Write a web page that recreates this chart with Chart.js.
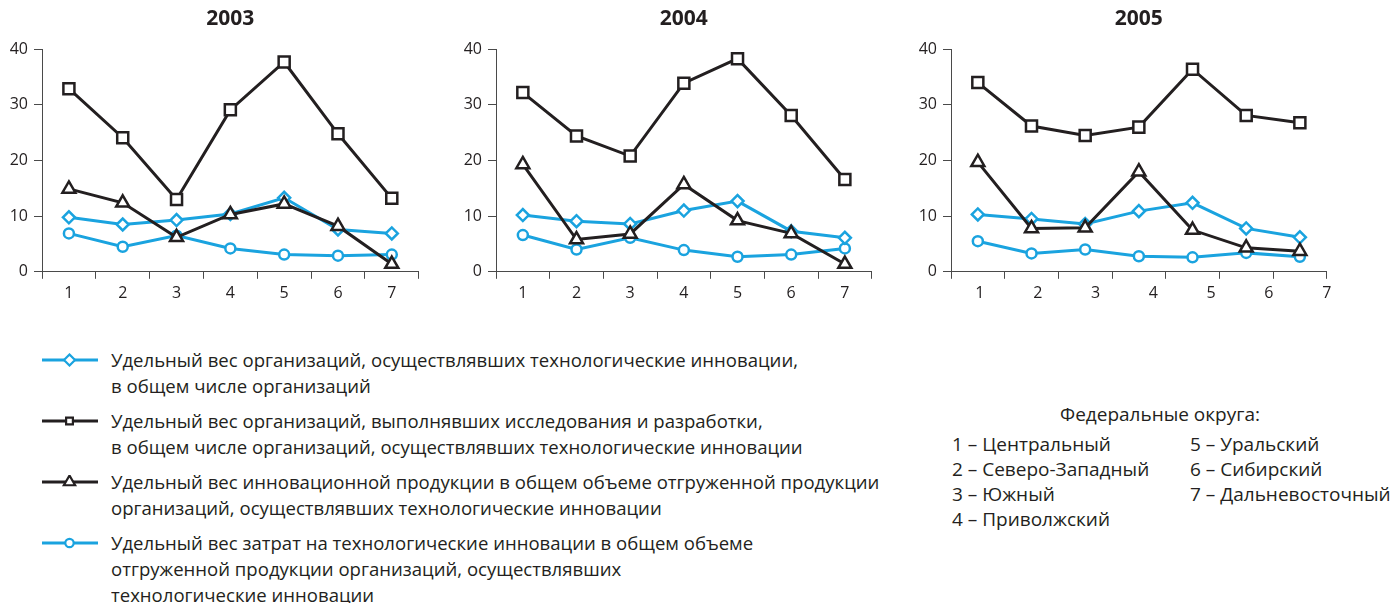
<!DOCTYPE html>
<html lang="ru">
<head>
<meta charset="utf-8">
<title>Инновационная активность по федеральным округам</title>
<script src="https://cdn.jsdelivr.net/npm/chart.js@4.4.1/dist/chart.umd.min.js"></script>
<style>
html, body { margin: 0; padding: 0; background: #fff; }
body { width: 1392px; height: 603px; position: relative; overflow: hidden;
       font-family: "Open Sans", sans-serif; color: #231f20; }
canvas.panel { position: absolute; top: 0; }
#legend { position: absolute; left: 42px; top: 347px; }
.item { display: flex; align-items: flex-start; margin-bottom: 9px; }
.item canvas { flex: none; margin-top: 6px; }
.item .txt { margin-left: 13px; font-size: 19px; line-height: 26px; white-space: nowrap;
             transform-origin: left top; }
.item .txt span { display: inline-block; }
#districts { position: absolute; left: 952px; top: 402px; font-size: 19px; line-height: 25px; }
#districts .head { position: absolute; left: 208px; top: 0; transform: translateX(-50%); white-space: nowrap; }
#districts .col { position: absolute; top: 30px; white-space: nowrap; }
</style>
</head>
<body>
<canvas class="panel" id="c2003" width="429" height="308" style="left:0px"></canvas>
<canvas class="panel" id="c2004" width="428" height="308" style="left:454px"></canvas>
<canvas class="panel" id="c2005" width="428" height="308" style="left:909px"></canvas>
<div id="legend"></div>
<div id="districts"></div>
<script>
// federal districts (x categories)
var districts = ['1', '2', '3', '4', '5', '6', '7'];
var districtNames = ['Центральный', 'Северо-Западный', 'Южный', 'Приволжский',
                     'Уральский', 'Сибирский', 'Дальневосточный'];

var seriesNames = [
    'Удельный вес организаций, осуществлявших технологические инновации,\nв общем числе организаций',
    'Удельный вес организаций, выполнявших исследования и разработки,\nв общем числе организаций, осуществлявших технологические инновации',
    'Удельный вес инновационной продукции в общем объеме отгруженной продукции\nорганизаций, осуществлявших технологические инновации',
    'Удельный вес затрат на технологические инновации в общем объеме\nотгруженной продукции организаций, осуществлявших\nтехнологические инновации'
];

// 2003
var innov2003   = [9.8, 8.5, 9.3, 10.4, 13.3, 7.6, 6.9];
var rnd2003     = [32.9, 24.1, 13.0, 29.1, 37.7, 24.8, 13.2];
var product2003 = [14.9, 12.4, 6.2, 10.3, 12.2, 8.2, 1.4];
var costs2003   = [6.9, 4.5, 6.5, 4.2, 3.1, 2.9, 3.1];

// 2004
var innov2004   = [10.2, 9.1, 8.6, 11.0, 12.7, 7.3, 6.1];
var rnd2004     = [32.2, 24.4, 20.8, 33.9, 38.3, 28.1, 16.6];
var product2004 = [19.3, 5.8, 6.8, 15.7, 9.2, 6.9, 1.4];
var costs2004   = [6.6, 4.0, 6.1, 3.9, 2.7, 3.1, 4.2];

// 2005
var innov2005   = [10.3, 9.5, 8.6, 10.9, 12.4, 7.8, 6.2];
var rnd2005     = [34.0, 26.2, 24.5, 26.0, 36.4, 28.1, 26.8];
var product2005 = [19.7, 7.8, 7.9, 18.0, 7.5, 4.3, 3.7];
var costs2005   = [5.5, 3.3, 4.0, 2.8, 2.6, 3.4, 2.7];

var BLUE = '#1aa3df';
var BLACK = '#231f20';
var AXIS = '#4a4a4a';
var FONT = '"Open Sans", sans-serif';

var styles = [
    { color: BLUE,  pointStyle: 'rectRot',  radius: 6,   legendRadius: 5.5, order: 2 },
    { color: BLACK, pointStyle: 'rect',     radius: 7.8, legendRadius: 4.8, order: 1 },
    { color: BLACK, pointStyle: 'triangle', radius: 7.5, legendRadius: 6.5, order: 1 },
    { color: BLUE,  pointStyle: 'circle',   radius: 5,   legendRadius: 4.2, order: 2 }
];

function createPanel(elementId, year, values, shiftedLabels) {
    var ctx = document.getElementById(elementId).getContext('2d');

    var datasets = [];
    for (var i = 0; i < values.length; i++) {
        var s = styles[i];
        datasets.push({
            label: seriesNames[i],
            data: values[i],
            borderColor: s.color,
            backgroundColor: '#fff',
            borderWidth: 3,
            pointStyle: s.pointStyle,
            pointRadius: s.radius,
            pointBorderWidth: 2.5,
            pointBorderColor: s.color,
            pointBackgroundColor: '#fff',
            tension: 0,
            order: s.order
        });
    }

    var tickFont = { family: FONT, size: 16 };

    var scales = {
        x: {
            offset: true,
            grid: { offset: true, drawOnChartArea: false, tickLength: 7, color: AXIS },
            border: { color: AXIS, width: 1 },
            ticks: { display: !shiftedLabels, padding: 5, color: BLACK, font: tickFont,
                     maxRotation: 0, autoSkip: false }
        },
        y: {
            min: 0,
            max: 40,
            grid: { drawOnChartArea: false, tickLength: 8, color: AXIS },
            border: { color: AXIS, width: 1 },
            ticks: { stepSize: 10, padding: 6, color: BLACK, font: tickFont },
            afterFit: function (scale) { scale.width = 42; }
        }
    };

    // in the 2005 panel the district numbers drift off the interval centres
    if (shiftedLabels) {
        scales.x2 = {
            type: 'linear',
            position: 'bottom',
            weight: 1,
            min: 0.5,
            max: 7,
            grid: { display: false, drawTicks: false },
            border: { display: false },
            ticks: { padding: 5, color: BLACK, font: tickFont, maxRotation: 0, autoSkip: false },
            afterBuildTicks: function (axis) {
                axis.ticks = districts.map(function (d) { return { value: Number(d) }; });
            }
        };
    }

    return new Chart(ctx, {
        type: 'line',
        data: { labels: districts, datasets: datasets },
        options: {
            responsive: false,
            animation: false,
            layout: { padding: { right: 8 } },
            plugins: {
                legend: { display: false },
                tooltip: { enabled: false },
                title: {
                    display: true,
                    text: year,
                    fullSize: false,
                    color: BLACK,
                    font: { family: FONT, size: 21, weight: 'bold' },
                    padding: { top: 6, bottom: 18 }
                }
            },
            scales: scales
        }
    });
}

createPanel('c2003', '2003', [innov2003, rnd2003, product2003, costs2003], false);
createPanel('c2004', '2004', [innov2004, rnd2004, product2004, costs2004], false);
createPanel('c2005', '2005', [innov2005, rnd2005, product2005, costs2005], true);

// legend below the panels
var legend = document.getElementById('legend');
for (var i = 0; i < seriesNames.length; i++) {
    var s = styles[i];
    var item = document.createElement('div');
    item.className = 'item';

    var mk = document.createElement('canvas');
    mk.width = 56; mk.height = 14;
    var mctx = mk.getContext('2d');
    mctx.strokeStyle = s.color;
    mctx.lineWidth = 3;
    mctx.beginPath(); mctx.moveTo(0, 7); mctx.lineTo(56, 7); mctx.stroke();
    mctx.fillStyle = '#fff';
    mctx.lineWidth = 2.2;
    if (Chart.helpers && Chart.helpers.drawPoint) {
        Chart.helpers.drawPoint(mctx, { pointStyle: s.pointStyle, radius: s.legendRadius,
                                        borderWidth: 2.2, rotation: 0 }, 27.5, 7);
    }
    item.appendChild(mk);

    var txt = document.createElement('div');
    txt.className = 'txt';
    seriesNames[i].split('\n').forEach(function (line) {
        var d = document.createElement('div');
        var sp = document.createElement('span');
        sp.textContent = line;
        d.appendChild(sp);
        txt.appendChild(d);
    });
    item.appendChild(txt);
    legend.appendChild(item);
}

// fit the text run to the width of the first legend line
var firstLine = legend.querySelector('.txt span');
var w = firstLine.getBoundingClientRect().width;
var k = 687 / w;
legend.querySelectorAll('.txt').forEach(function (el) {
    el.style.transform = 'scaleX(' + k + ')';
});

// federal districts key
var box = document.getElementById('districts');
var head = document.createElement('div');
head.className = 'head';
head.textContent = 'Федеральные округа:';
box.appendChild(head);
var colLeft = document.createElement('div');
colLeft.className = 'col';
colLeft.style.left = '0px';
var colRight = document.createElement('div');
colRight.className = 'col';
colRight.style.left = '238px';
for (var j = 0; j < districtNames.length; j++) {
    var row = document.createElement('div');
    row.textContent = districts[j] + ' \u2013 ' + districtNames[j];
    (j < 4 ? colLeft : colRight).appendChild(row);
}
box.appendChild(colLeft);
box.appendChild(colRight);
</script>
</body>
</html>
